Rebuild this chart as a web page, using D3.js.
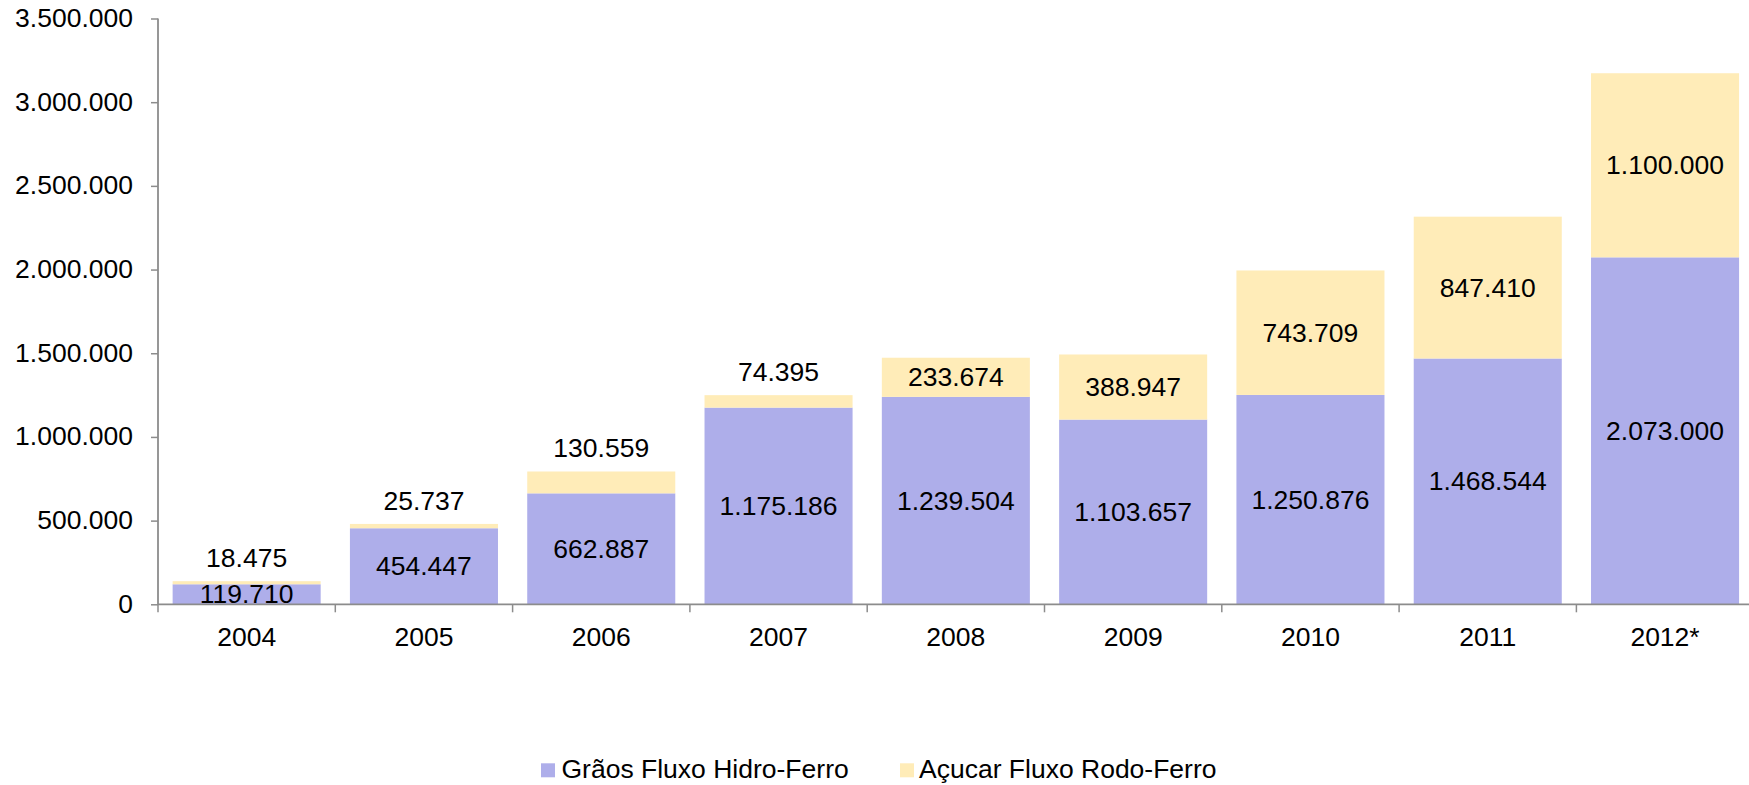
<!DOCTYPE html>
<html>
<head>
<meta charset="utf-8">
<script src="https://cdn.jsdelivr.net/npm/d3@7"></script>
<style>
  html, body { margin: 0; padding: 0; background: #fff; }
  svg { display: block; font-family: "Liberation Sans", Arial, sans-serif; }
</style>
</head>
<body>
<svg id="chart" width="1749" height="785"></svg>
<script>
const categories = ["2004", "2005", "2006", "2007", "2008", "2009", "2010", "2011", "2012*"];
const graos = [119710, 454447, 662887, 1175186, 1239504, 1103657, 1250876, 1468544, 2073000];
const acucar = [18475, 25737, 130559, 74395, 233674, 388947, 743709, 847410, 1100000];
const seriesNames = ["Grãos Fluxo Hidro-Ferro", "Açucar Fluxo Rodo-Ferro"];
const seriesColors = ["#AEAEEA", "#FFECB8"];
const yTicks = [0, 500000, 1000000, 1500000, 2000000, 2500000, 3000000, 3500000];

const locale = d3.formatLocale({decimal: ",", thousands: ".", grouping: [3], currency: ["", ""]});
const fmt = locale.format(",d");

const svg = d3.select("#chart");
const left = 158, step = 177.3, n = categories.length;
const x = d3.scaleBand().domain(categories).range([left, left + step * n]).paddingInner(0.165).paddingOuter(0.0825);
const xb = d3.scaleBand().domain(categories).range([left, left + step * n]).padding(0);
const y = d3.scaleLinear().domain([0, 3500000]).range([604.3, 18.5]);

const rows = categories.map((c, i) => ({cat: c, graos: graos[i], acucar: acucar[i]}));
const stack = d3.stack().keys(["graos", "acucar"])(rows);

const axisColor = "#8c8c8c";
const fs = 25;

// bars
stack.forEach((layer, li) => {
  svg.append("g").selectAll("rect").data(layer).join("rect")
    .attr("x", d => x(d.data.cat))
    .attr("width", x.bandwidth())
    .attr("y", d => y(d[1]))
    .attr("height", d => y(d[0]) - y(d[1]))
    .attr("fill", seriesColors[li]);
});

// y axis
const yAxis = d3.axisLeft(y).tickValues(yTicks).tickFormat(fmt).tickSize(7).tickPadding(18);
const gy = svg.append("g").attr("transform", `translate(${left},0)`).call(yAxis);
gy.selectAll("path, line").attr("stroke", axisColor).attr("stroke-width", 1.5);
gy.select(".domain").attr("d", `M0,${y(3500000)}H0V${y(0)}`).attr("stroke-width", 1.8);
gy.selectAll("text").attr("font-size", fs).attr("fill", "#000").attr("font-family", "Liberation Sans, Arial, sans-serif");

// x axis
const gx = svg.append("g");
gx.append("line").attr("x1", left).attr("x2", left + step * n).attr("y1", y(0)).attr("y2", y(0))
  .attr("stroke", axisColor).attr("stroke-width", 1.8);
gx.selectAll("line.tick").data(categories).join("line").attr("class", "tick")
  .attr("x1", d => xb(d)).attr("x2", d => xb(d))
  .attr("y1", y(0)).attr("y2", y(0) + 8)
  .attr("stroke", axisColor).attr("stroke-width", 1.5);
gx.selectAll("text").data(categories).join("text")
  .attr("x", d => xb(d) + xb.bandwidth() / 2)
  .attr("y", y(0) + 42)
  .attr("text-anchor", "middle").attr("font-size", fs).attr("fill", "#000")
  .text(d => d);

// labels
const labelH = 30;
svg.append("g").selectAll("text").data(stack[0]).join("text")
  .attr("x", d => x(d.data.cat) + x.bandwidth() / 2)
  .attr("y", d => (y(d[0]) + y(d[1])) / 2 + 9)
  .attr("text-anchor", "middle").attr("font-size", fs).attr("fill", "#000")
  .text(d => fmt(d.data.graos));
svg.append("g").selectAll("text").data(stack[1]).join("text")
  .attr("x", d => x(d.data.cat) + x.bandwidth() / 2)
  .attr("y", d => {
    const h = y(d[0]) - y(d[1]);
    return h < labelH ? y(d[1]) - 14 : (y(d[0]) + y(d[1])) / 2 + 9;
  })
  .attr("text-anchor", "middle").attr("font-size", fs).attr("fill", "#000")
  .text(d => fmt(d.data.acucar));

// legend
const legendItems = [
  {name: seriesNames[0], color: seriesColors[0], sx: 541, tx: 561.5},
  {name: seriesNames[1], color: seriesColors[1], sx: 900, tx: 919}
];
const lg = svg.append("g");
legendItems.forEach(it => {
  lg.append("rect").attr("x", it.sx).attr("y", 763.3).attr("width", 14).attr("height", 14).attr("fill", it.color);
  lg.append("text").attr("x", it.tx).attr("y", 778).attr("font-size", fs).attr("fill", "#000").text(it.name);
});

// slight horizontal stretch of all text to match reference glyph proportions
svg.selectAll("text").each(function() {
  const len = this.getComputedTextLength();
  d3.select(this).attr("textLength", (len * 1.06).toFixed(1)).attr("lengthAdjust", "spacingAndGlyphs");
});
</script>
</body>
</html>
